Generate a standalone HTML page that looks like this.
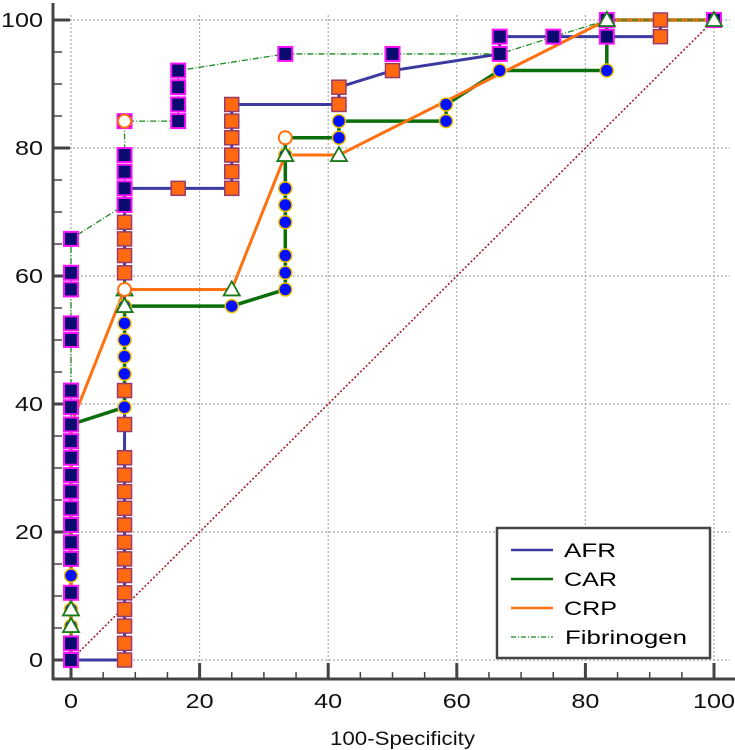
<!DOCTYPE html>
<html><head><meta charset="utf-8">
<style>
html,body{margin:0;padding:0;background:#fff;width:735px;height:750px;overflow:hidden}
svg{display:block;font-family:"Liberation Sans",sans-serif}
</style></head>
<body>
<svg id="chart" width="735" height="750" viewBox="0 0 735 750">
<g id="grid"></g>
<g id="axes"></g>
<g id="series"></g>
<g id="markers"></g>
<text x="330" y="745" font-size="19" textLength="145" lengthAdjust="spacingAndGlyphs" fill="#111">100-Specificity</text>
<g>
<rect x="497" y="528" width="213" height="130" fill="#fff" stroke="#444" stroke-width="2.5"/>
<g><line x1="511" y1="550" x2="553" y2="550" stroke="#3a3aa0" stroke-width="2.5"/><text x="564" y="557" font-size="19" textLength="52" lengthAdjust="spacingAndGlyphs">AFR</text></g>
<g><line x1="511" y1="579" x2="553" y2="579" stroke="#0a6e0a" stroke-width="2.5"/><text x="564" y="586" font-size="19" textLength="53" lengthAdjust="spacingAndGlyphs">CAR</text></g>
<g><line x1="511" y1="608" x2="553" y2="608" stroke="#ff7010" stroke-width="2.5"/><text x="564" y="615" font-size="19" textLength="53" lengthAdjust="spacingAndGlyphs">CRP</text></g>
<g><line x1="511" y1="637" x2="553" y2="637" stroke="#1a8a1a" stroke-width="1.2" stroke-dasharray="5,2,1,2"/><text x="565" y="644" font-size="19" textLength="122" lengthAdjust="spacingAndGlyphs">Fibrinogen</text></g>
</g>
</svg>
<script>
const xTicks=[0,20,40,60,80,100];
const yTicks=[0,20,40,60,80,100];
const afrX=[0,8.33,8.33,25,25,41.67,41.67,50,66.67,66.67,91.67,91.67,100];
const afrY=[0,0,73.7,73.7,86.8,86.8,89.5,92.1,94.7,97.4,97.4,100,100];
const carX=[0,0,8.33,8.33,25,33.33,33.33,41.67,41.67,58.33,58.33,66.67,83.33,83.33,100];
const carY=[0,36.8,39.5,55.3,55.3,57.9,81.6,81.6,84.2,84.2,86.8,92.1,92.1,100,100];
const crpX=[0,0,8.33,25,33.33,41.67,83.33,100];
const crpY=[0,36.8,57.9,57.9,78.9,78.9,100,100];
const fibX=[0,0,8.33,8.33,16.67,16.67,33.33,66.67,83.33,100];
const fibY=[0,65.8,71.1,84.2,84.2,92.1,94.7,94.7,100,100];
const navyX=[0,0,0,0,0,0,0,0,0,0,0,0,0,0,0,0,0,0,0,0,8.33,8.33,8.33,8.33,8.33,16.67,16.67,16.67,16.67,33.33,50,66.67,66.67,75,83.33,83.33,100];
const navyY=[0,2.6,10.5,15.8,18.4,21.1,23.7,26.3,28.9,31.6,34.2,36.8,39.5,42.1,50,52.6,57.9,60.5,65.8,0,71.1,73.7,76.3,78.9,84.2,84.2,86.8,89.5,92.1,94.7,94.7,94.7,97.4,97.4,97.4,100,100];
const orangeX=[8.33,8.33,8.33,8.33,8.33,8.33,8.33,8.33,8.33,8.33,8.33,8.33,8.33,8.33,8.33,8.33,8.33,8.33,8.33,16.67,25,25,25,25,25,25,41.67,41.67,50,91.67,91.67];
const orangeY=[0,2.6,5.3,7.9,10.5,13.2,15.8,18.4,21.1,23.7,26.3,28.9,31.6,36.8,42.1,60.5,63.2,65.8,68.4,73.7,73.7,76.3,78.9,81.6,84.2,86.8,86.8,89.5,92.1,97.4,100];
const dotX=[0,0,0,8.33,8.33,8.33,8.33,8.33,8.33,25,33.33,33.33,33.33,33.33,33.33,33.33,33.33,41.67,41.67,58.33,58.33,66.67,83.33];
const dotY=[5.3,7.9,13.2,39.5,44.7,47.4,50,52.6,55.3,55.3,57.9,60.5,63.2,68.4,71.1,73.7,78.9,81.6,84.2,84.2,86.8,92.1,92.1];
const triX=[0,0,8.33,8.33,25,33.33,41.67,83.33,100];
const triY=[5.3,7.9,55.3,57.9,57.9,78.9,78.9,100,100];
const ringX=[8.33,8.33,33.33];
const ringY=[57.9,84.2,81.6];

const NS="http://www.w3.org/2000/svg";
const X0=71,X1=714,Y0=660,Y1=20;
const sx=v=>X0+(X1-X0)*v/100;
const sy=v=>Y0-(Y0-Y1)*v/100;
function mk(tag,attrs,parent){const e=document.createElementNS(NS,tag);for(const k in attrs)e.setAttribute(k,attrs[k]);parent.appendChild(e);return e;}
const grid=document.getElementById('grid'),axes=document.getElementById('axes'),ser=document.getElementById('series'),mrk=document.getElementById('markers');
xTicks.forEach(t=>{const l=mk('line',{x1:sx(t),x2:sx(t),y1:15,y2:679,stroke:'#aaa','stroke-width':1.2,'stroke-dasharray':'2,2'},grid);

});
yTicks.forEach(t=>{const l=mk('line',{x1:53,x2:730,y1:sy(t),y2:sy(t),stroke:'#aaa','stroke-width':1.2,'stroke-dasharray':'2,2'},grid);

});
mk('line',{x1:53,x2:53,y1:3,y2:680,stroke:'#444','stroke-width':3},axes);
mk('line',{x1:52,x2:735,y1:679,y2:679,stroke:'#444','stroke-width':3},axes);
for(let v=0;v<=100;v+=5){const maj=v%20===0;
mk('line',{x1:sx(v),x2:sx(v),y1:maj?663:672,y2:679,stroke:'#444','stroke-width':maj?3:1.5},axes);
mk('line',{x1:53,x2:maj?70:62,y1:sy(v),y2:sy(v),stroke:'#444','stroke-width':maj?3:1.5},axes);}
xTicks.forEach(t=>{const s=String(t);const w=s.length*14;const e=mk('text',{x:sx(t)-w/2,y:708,'font-size':20,textLength:w,lengthAdjust:'spacingAndGlyphs',fill:'#111'},axes);e.textContent=s;

});
yTicks.forEach(t=>{const s=String(t);const w=s.length*14;const e=mk('text',{x:43-w,y:sy(t)+7,'font-size':20,textLength:w,lengthAdjust:'spacingAndGlyphs',fill:'#111'},axes);e.textContent=s;

});
const diag=mk('line',{x1:sx(0),y1:sy(0),x2:sx(100),y2:sy(100),stroke:'#a01020','stroke-width':1.5,'stroke-dasharray':'2,2'},ser);


function pl(xs,ys,attrs){const pts=xs.map((x,i)=>sx(x)+','+sy(ys[i])).join(' ');return mk('polyline',Object.assign({points:pts,fill:'none'},attrs),ser);}
let e;
e=pl(afrX,afrY,{stroke:'#3a3aa0','stroke-width':3});


e=pl(carX,carY,{stroke:'#0a6e0a','stroke-width':3.5});


e=pl(crpX,crpY,{stroke:'#ff7010','stroke-width':3});


e=pl(fibX,fibY,{stroke:'#1a8a1a','stroke-width':1.3,'stroke-dasharray':'6,2,1,2'});


orangeX.forEach((x,i)=>{const r=mk('rect',{x:sx(x)-7,y:sy(orangeY[i])-7,width:14,height:14,fill:'#ff6a10',stroke:'#9a3a6a','stroke-width':1.5},mrk);

});
navyX.forEach((x,i)=>{const r=mk('rect',{x:sx(x)-7,y:sy(navyY[i])-7,width:14,height:14,fill:'#0a0a70',stroke:'#ff10ff','stroke-width':2},mrk);

});
dotX.forEach((x,i)=>{const c=mk('circle',{cx:sx(x),cy:sy(dotY[i]),r:6.5,fill:'#0010ff',stroke:'#f0c000','stroke-width':1.5},mrk);

});
triX.forEach((x,i)=>{const cx=sx(x),cy=sy(triY[i]);const t=mk('polygon',{points:`${cx},${cy-8} ${cx-8},${cy+6} ${cx+8},${cy+6}`,fill:'#fff',stroke:'#1a7a1a','stroke-width':1.8},mrk);

});
ringX.forEach((x,i)=>{const c=mk('circle',{cx:sx(x),cy:sy(ringY[i]),r:6.5,fill:'#fff',stroke:'#ff7010','stroke-width':2},mrk);

});
</script>
</body></html>
